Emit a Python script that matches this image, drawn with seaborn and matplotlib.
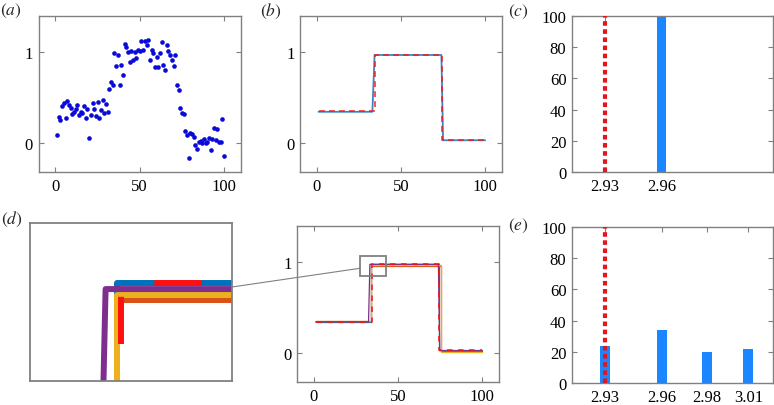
import numpy as np
import seaborn as sns
import matplotlib.pyplot as plt
from matplotlib.patches import Rectangle, ConnectionPatch

# (a) noisy measurements
sig_x = np.arange(1, 101)
sig_y = [0.09, 0.29, 0.25, 0.41, 0.44, 0.28, 0.46, 0.42, 0.39, 0.32,
         0.34, 0.37, 0.42, 0.31, 0.34, 0.33, 0.41, 0.28, 0.38, 0.05,
         0.31, 0.44, 0.37, 0.30, 0.45, 0.28, 0.36, 0.47, 0.33, 0.43,
         0.34, 0.59, 0.67, 0.64, 0.99, 0.85, 0.97, 0.64, 0.86, 0.75,
         1.09, 1.06, 1.00, 0.89, 1.01, 0.92, 1.00, 0.94, 1.03, 1.01,
         1.12, 1.02, 1.12, 1.08, 1.14, 0.91, 1.03, 0.99, 0.84, 0.95,
         0.84, 0.99, 1.11, 0.86, 0.81, 1.08, 1.01, 0.97, 0.92, 0.85,
         0.97, 0.64, 0.58, 0.39, 0.33, 0.32, 0.13, 0.09, -0.17, 0.11,
         0.10, 0.07, -0.02, -0.07, 0.01, 0.02, 0.00, 0.04, 0.00, 0.01,
         0.06, -0.08, 0.04, 0.16, 0.03, 0.15, 0.01, 0.01, 0.26, -0.14]

# (b) step estimate (blue) vs truth (red dashed)
b_est_x = [1, 33, 34.3, 74, 75, 100]
b_est_y = [0.344, 0.344, 0.97, 0.97, 0.03, 0.03]
b_true_x = [1, 34.3, 34.3, 74.5, 74.5, 100]
b_true_y = [0.35, 0.35, 0.975, 0.975, 0.03, 0.03]

# (c) histogram of estimates
true_val = 2.93
c_vals = [2.96]
c_counts = [100]
c_ticks = [2.93, 2.96]
c_labels = ['2.93', '2.96']

# (e) histogram of estimates
e_vals = [2.93, 2.96, 2.984, 3.006]
e_counts = [24, 34, 20, 22]
e_labels = ['2.93', '2.96', '2.98', '3.01']

# (d) several step estimates
d_true_x = [1, 34.5, 34.5, 74.5, 74.5, 100]
d_true_y = [0.344, 0.344, 0.986, 0.986, 0.03, 0.03]
d_blue_x = [1, 34.2, 34.2, 74.3, 74.3, 100]
d_blue_y = [0.344, 0.344, 0.986, 0.986, 0.03, 0.03]
d_purple_x = [1, 32.5, 33.3, 74, 74.8, 100]
d_purple_y = [0.344, 0.344, 0.978, 0.978, 0.025, 0.025]
d_yellow_x = [1, 34.2, 34.2, 75.3, 75.3, 100]
d_yellow_y = [0.35, 0.35, 0.970, 0.970, 0.015, 0.015]
d_orange_x = [1, 34.2, 34.2, 75.6, 75.6, 100]
d_orange_y = [0.35, 0.35, 0.963, 0.963, 0.02, 0.02]

zoom_xlim = (27.5, 43.0)
zoom_ylim = (0.85, 1.07)

sns.set_style('ticks')
plt.rcParams['font.family'] = ['Liberation Serif', 'DejaVu Serif']
plt.rcParams['mathtext.fontset'] = 'stix'

GRAY = '#808080'
BLUE = '#0072BD'
RED = '#FF1010'
ORANGE = '#D95319'
YELLOW = '#EDB120'
PURPLE = '#7E2F8E'
BARBLUE = '#1a86ff'

fig = plt.figure(figsize=(7.74, 4.06), dpi=100)
W, H = 774.0, 406.0


def add_ax(x0, x1, ytop, ybot):
    return fig.add_axes([x0 / W, 1 - ybot / H, (x1 - x0) / W, (ybot - ytop) / H])


def style(ax):
    for s in ax.spines.values():
        s.set_color(GRAY)
        s.set_linewidth(1.0)
        s.set_visible(True)
    ax.tick_params(direction='in', top=True, right=True, color=GRAY,
                   length=3.5, width=0.8, labelsize=12, pad=4, labelcolor='black')
    ax.set_xlabel('')
    ax.set_ylabel('')


def step_axes(ax):
    ax.set_xlim(-10, 110)
    ax.set_ylim(-0.32, 1.4)
    ax.set_xticks([0, 50, 100])
    ax.set_yticks([0, 1])
    style(ax)


def hist_axes(ax):
    ax.set_xlim(2.9126, 3.019)
    ax.set_ylim(0, 100)
    ax.set_yticks([0, 20, 40, 60, 80, 100])
    style(ax)


# (a)
ax_a = add_ax(38.5, 241, 17, 173)
sns.scatterplot(x=sig_x, y=sig_y, ax=ax_a, color='#0a0ad8', s=11, linewidth=0)
step_axes(ax_a)

# (b)
ax_b = add_ax(300, 502, 17, 173)
sns.lineplot(x=b_est_x, y=b_est_y, ax=ax_b, sort=False, estimator=None,
             color='#3a86c8', lw=1.3)
sns.lineplot(x=b_true_x, y=b_true_y, ax=ax_b, sort=False, estimator=None,
             color=RED, lw=1.2, linestyle=(0, (3.5, 2.5)), alpha=0.85)
step_axes(ax_b)

# (c)
ax_c = add_ax(572, 773, 17, 173)
sns.barplot(x=c_vals, y=c_counts, ax=ax_c, native_scale=True, width=0.0052,
            color=BARBLUE, saturation=1, linewidth=0, errorbar=None)
ax_c.axvline(true_val, color='#e3161c', lw=3.0, linestyle=(0, (1.1, 0.85)), zorder=3)
hist_axes(ax_c)
ax_c.set_xticks(c_ticks)
ax_c.set_xticklabels(c_labels)

# (d) main
ax_d = add_ax(297, 499, 227, 383)
d_series = [(d_blue_x, d_blue_y, BLUE), (d_orange_x, d_orange_y, ORANGE),
            (d_yellow_x, d_yellow_y, YELLOW), (d_purple_x, d_purple_y, PURPLE)]
for xs, ys, col in d_series:
    sns.lineplot(x=xs, y=ys, ax=ax_d, sort=False, estimator=None, color=col, lw=0.9)
sns.lineplot(x=d_true_x, y=d_true_y, ax=ax_d, sort=False, estimator=None,
             color=RED, lw=1.1, linestyle=(0, (3.6, 3.6)))
step_axes(ax_d)
ax_d.add_patch(Rectangle((zoom_xlim[0], zoom_ylim[0]), zoom_xlim[1] - zoom_xlim[0],
                         zoom_ylim[1] - zoom_ylim[0], fill=False, ec=GRAY, lw=1.3, zorder=5))

# (d) zoomed inset
ax_z = add_ax(30, 232, 224, 382)
for xs, ys, col in d_series:
    sns.lineplot(x=xs, y=ys, ax=ax_z, sort=False, estimator=None, color=col, lw=4.3)
sns.lineplot(x=d_true_x, y=d_true_y, ax=ax_z, sort=False, estimator=None,
             color=RED, lw=4.3, linestyle=(5.42, (7.9, 7.9)))
ax_z.set_xlim(*zoom_xlim)
ax_z.set_ylim(*zoom_ylim)
ax_z.set_xticks([])
ax_z.set_yticks([])
for s in ax_z.spines.values():
    s.set_color(GRAY)
    s.set_linewidth(1.3)

con = ConnectionPatch(xyA=(1.0, 0.595), coordsA=ax_z.transAxes,
                      xyB=(zoom_xlim[0], 0.934), coordsB=ax_d.transData,
                      color=GRAY, lw=0.8)
fig.add_artist(con)

# (e)
ax_e = add_ax(572, 773, 228, 384)
sns.barplot(x=e_vals, y=e_counts, ax=ax_e, native_scale=True, width=0.24,
            color=BARBLUE, saturation=1, linewidth=0, errorbar=None)
ax_e.axvline(true_val, color='#e3161c', lw=3.0, linestyle=(0, (1.1, 0.85)), zorder=3)
hist_axes(ax_e)
ax_e.set_xticks(e_vals)
ax_e.set_xticklabels(e_labels)

# panel labels
for lab, px, py in [('a', 11, 11), ('b', 271, 11), ('c', 518, 12), ('d', 12, 219), ('e', 518, 226)]:
    fig.text(px / W, 1 - py / H, r'$(%s)$' % lab, fontsize=12.5, ha='center', va='center')

fig.savefig('out.png', dpi=100)
